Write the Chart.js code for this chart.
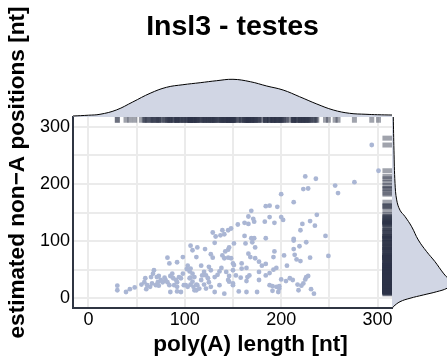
<!DOCTYPE html>
<html><head><meta charset="utf-8">
<script src="https://cdn.jsdelivr.net/npm/chart.js@4.4.1/dist/chart.umd.min.js"></script>
<style>
html,body{margin:0;padding:0;background:#fff;}
#wrap{position:relative;width:447px;height:358px;overflow:hidden;background:#fff;}
canvas{position:absolute;}
</style></head><body>
<div id="wrap">
<canvas id="main" width="447" height="358" style="left:0;top:0"></canvas>
<canvas id="topd" width="319" height="77" style="left:73px;top:40px"></canvas>
<canvas id="rightd" width="55" height="191" style="left:392px;top:117px"></canvas>
</div>
<script>
// ---------------- data ----------------
const titleText = 'Insl3 - testes';
const xTitle = 'poly(A) length [nt]';
const yTitle = 'estimated non\u2212A positions [nt]';
const xTickLabels = [0, 100, 200, 300];
const yTickLabels = [0, 100, 200, 300];

// scatter: poly(A) length (x) and estimated non-A positions (y)
const polyA = [30,30,39,43,48,55,58,61,64,60,59,65,67,68,66,70,72,73,75,77,80,71,73,79,82,92,84,98,87,85,82,84,88,91,92,89,92,94,96,98,99,96,92,85,103,102,105,106,108,110,106,105,101,103,106,109,110,112,108,106,113,108,112,117,120,118,117,113,115,112,121,127,129,131,129,132,125,127,122,124,131,134,136,138,120,122,125,127,131,136,141,139,141,139,141,137,142,
294,301,225,236,223,228,256,276,259,200,213,184,188,196,169,166,171,172,188,200,202,237,230,222,235,183,193,162,166,155,148,145,220,246,213,213,226,184,162,169,172,163,170,151,173,146,145,219,213,193,214,203,249,192,166,168,173,177,180,184,206,216,220,230,159,164,159,150,151,148,145,195,192,188,184,177,150,153,158,167,165,143,146,150,145,164,177,200,205,209,212,225,228,226,188,191,195,198,191,197,198,217,221,223,218,231,234,175,164,156,150,146];
const nonA = [22,14,11,16,19,24,28,23,20,16,35,37,43,49,26,23,28,22,32,28,32,37,39,36,71,63,61,72,43,39,28,23,35,32,28,23,20,37,35,43,23,11,12,11,57,51,47,52,43,37,36,35,23,20,24,20,14,24,29,92,89,84,72,57,46,40,32,23,17,14,86,77,71,97,115,108,55,49,40,35,37,41,47,53,24,17,28,20,11,23,8,119,112,75,70,110,82,
268,223,213,209,191,192,197,203,184,182,168,161,162,160,153,143,139,134,142,142,137,146,135,130,127,134,132,132,130,129,122,119,119,109,104,101,98,105,109,105,105,96,98,96,89,89,85,91,86,82,76,75,74,72,78,72,70,64,57,60,57,68,65,71,61,53,52,61,58,70,71,53,50,44,40,46,49,40,36,40,37,46,39,26,32,30,32,33,30,35,32,33,39,37,23,21,20,21,13,11,17,24,22,26,14,16,8,11,11,12,23,29];
// rug marks on the right edge from points lying beyond the x range
const rugOnlyY = [280];

// marginal densities (density x 1e-3)
const topDensX = [-16,0,12,29,46,64,81,98,116,133,150,168,185,202,219,237,254,271,288,300,315];
const topDensY = [0.16,0.29,0.44,1.14,2.44,3.85,4.82,5.24,5.57,5.89,6.12,5.73,5.03,4.38,3.30,2.11,1.14,0.60,0.44,0.37,0.32];
const rightDensY = [-17,-14.7,-6,0,5.8,11.5,17.5,27,35,44,64,81.5,102,125,143,154,172,201,259,317];
const rightDensX = [0.08,0.21,1.30,2.92,5.08,7.26,8.93,10.06,9.09,8.33,6.98,5.63,4.27,3.20,2.11,1.30,0.76,0.49,0.32,0.21];

// ---------------- style ----------------
const X_MIN = -16, X_MAX = 315, Y_MIN = -17, Y_MAX = 317;
const FONT = "'Liberation Sans', Arial, Helvetica, sans-serif";
const POINT = '#aab6d4';
const DENS_FILL = '#d1d6e4';
const RUG = 'rgba(44,52,72,0.45)';
const AXIS = '#2f3542';
const GRID = '#ebebeb';
const PLOT_W = 319, PLOT_H = 191;
const RUG_FRAC = 0.03;

const axisTitles = {
  id: 'axisTitles',
  afterDraw(chart) {
    const ctx = chart.ctx;
    ctx.save();
    ctx.fillStyle = '#000';
    ctx.font = 'bold 22.6px ' + FONT;
    ctx.textAlign = 'center';
    ctx.textBaseline = 'alphabetic';
    ctx.fillText(xTitle, 250.5, 350.5);
    ctx.translate(23.5, 172.5);
    ctx.rotate(-Math.PI / 2);
    ctx.fillText(yTitle, 0, 0);
    ctx.restore();
  }
};

const rugTopY = Y_MAX - (RUG_FRAC / 2) * (Y_MAX - Y_MIN);
const rugRightX = X_MAX - (RUG_FRAC / 2) * (X_MAX - X_MIN);

new Chart(document.getElementById('main'), {
  type: 'scatter',
  data: {
    datasets: [
      {
        data: polyA.map(x => ({x: x, y: rugTopY})),
        pointStyle: 'line', pointRotation: 90,
        pointRadius: PLOT_H * RUG_FRAC / 2,
        pointBorderWidth: 5, pointBorderColor: RUG, pointBackgroundColor: RUG
      },
      {
        data: nonA.concat(rugOnlyY).map(y => ({x: rugRightX, y: y})),
        pointStyle: 'line', pointRotation: 0,
        pointRadius: PLOT_W * RUG_FRAC / 2,
        pointBorderWidth: 5, pointBorderColor: RUG, pointBackgroundColor: RUG
      },
      {
        data: polyA.map((x, i) => ({x: x, y: nonA[i]})),
        pointRadius: 2.4, pointBorderWidth: 0,
        pointBackgroundColor: POINT, pointBorderColor: POINT
      }
    ]
  },
  options: {
    responsive: false, animation: false, events: [],
    layout: {padding: {left: 0, right: 55, top: 0, bottom: 0}},
    plugins: {
      legend: {display: false}, tooltip: {enabled: false},
      title: {
        display: true, text: titleText, fullSize: false, color: '#000',
        font: {family: FONT, size: 28.5, weight: 'bold', lineHeight: 1.2},
        padding: {top: 10.4, bottom: 72.4}
      }
    },
    scales: {
      x: {
        type: 'linear', min: X_MIN, max: X_MAX,
        afterFit: s => { s.height = 50; },
        grid: {color: GRID, lineWidth: 2, drawTicks: false},
        border: {display: true, color: AXIS, width: 2},
        ticks: {
          stepSize: 50, includeBounds: false, autoSkip: false, maxRotation: 0,
          padding: 1, color: '#000', font: {family: FONT, size: 18},
          callback: v => xTickLabels.includes(v) ? String(v) : ''
        }
      },
      y: {
        type: 'linear', min: Y_MIN, max: Y_MAX,
        afterFit: s => { s.width = 73; },
        grid: {color: GRID, lineWidth: 2, drawTicks: false},
        border: {display: true, color: AXIS, width: 2},
        ticks: {
          stepSize: 50, includeBounds: false, autoSkip: false,
          padding: 3, color: '#000', font: {family: FONT, size: 18},
          callback: v => yTickLabels.includes(v) ? String(v) : ''
        }
      }
    }
  },
  plugins: [axisTitles]
});

new Chart(document.getElementById('topd'), {
  type: 'line',
  data: {
    datasets: [{
      data: topDensX.map((x, i) => ({x: x, y: topDensY[i]})),
      borderColor: '#000', borderWidth: 1, backgroundColor: DENS_FILL,
      fill: 'origin', pointRadius: 0, tension: 0.4
    }]
  },
  options: {
    responsive: false, animation: false, events: [],
    layout: {padding: 0},
    plugins: {legend: {display: false}, tooltip: {enabled: false}},
    scales: {
      x: {type: 'linear', min: X_MIN, max: X_MAX, display: false},
      y: {type: 'linear', min: 0, max: 12.5, display: false}
    }
  }
});

new Chart(document.getElementById('rightd'), {
  type: 'line',
  data: {
    datasets: [{
      data: rightDensY.map((y, i) => ({x: rightDensX[i], y: y})),
      borderColor: '#000', borderWidth: 1, backgroundColor: DENS_FILL,
      fill: 'origin', pointRadius: 0, tension: 0.4
    }]
  },
  options: {
    indexAxis: 'y',
    responsive: false, animation: false, events: [],
    layout: {padding: 0},
    plugins: {legend: {display: false}, tooltip: {enabled: false}},
    scales: {
      x: {type: 'linear', min: 0, max: 8.93, display: false},
      y: {type: 'linear', min: Y_MIN, max: Y_MAX, display: false}
    }
  }
});
</script>
</body></html>
